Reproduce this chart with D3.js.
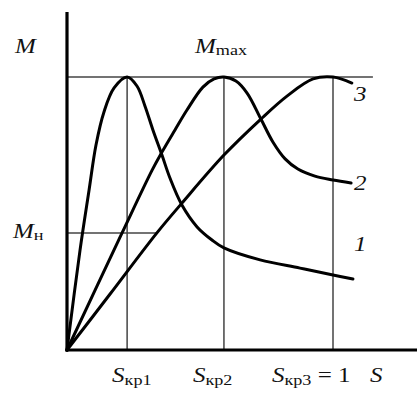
<!DOCTYPE html>
<html>
<head>
<meta charset="utf-8">
<script src="https://cdn.jsdelivr.net/npm/d3@7"></script>
<style>
  html, body { margin: 0; padding: 0; background: #fff; }
  svg { display: block; }
  text { font-family: "Liberation Serif", "DejaVu Serif", serif; fill: #111; }
</style>
</head>
<body>
<svg id="chart" width="417" height="397"></svg>
<script>
// Torque–slip characteristics M(S) for three critical slips
const slip1 = [0, 0.049, 0.083, 0.109, 0.139, 0.177, 0.226, 0.263, 0.293, 0.323, 0.357, 0.387, 0.432, 0.489, 0.545, 0.590, 0.726, 0.876, 1.0, 1.075];
const torque1 = [0, 0.366, 0.586, 0.751, 0.872, 0.960, 1.0, 0.967, 0.894, 0.806, 0.714, 0.630, 0.531, 0.451, 0.403, 0.374, 0.330, 0.300, 0.275, 0.260];

const slip2 = [0, 0.207, 0.320, 0.357, 0.406, 0.451, 0.511, 0.553, 0.590, 0.635, 0.677, 0.729, 0.774, 0.820, 0.868, 0.932, 1.0, 1.068];
const torque2 = [0, 0.429, 0.659, 0.725, 0.806, 0.879, 0.963, 0.993, 1.0, 0.985, 0.941, 0.846, 0.762, 0.700, 0.663, 0.637, 0.623, 0.612];

const slip3 = [0, 0.162, 0.338, 0.432, 0.590, 0.729, 0.827, 0.925, 1.0, 1.071];
const torque3 = [0, 0.205, 0.429, 0.538, 0.714, 0.846, 0.930, 0.993, 1.0, 0.978];

const curveNames = ["1", "2", "3"];
const criticalSlips = [0.226, 0.590, 1.0];
const criticalLabels = ["1", "2", "3"];
const mMax = 1.0;
const mNom = 0.429;
const sMaxAxis = 1.32;
const mMaxAxis = 1.238;
const sMaxLine = 1.15;

const svg = d3.select("#chart");
const x = d3.scaleLinear().domain([0, 1]).range([67, 333]);
const y = d3.scaleLinear().domain([0, 1]).range([350, 77]);

const series = [
  slip1.map((s, i) => [s, torque1[i]]),
  slip2.map((s, i) => [s, torque2[i]]),
  slip3.map((s, i) => [s, torque3[i]])
];

// thin guide lines
const guides = svg.append("g").attr("stroke", "#444").attr("stroke-width", 1.5).attr("fill", "none");
guides.append("line")
  .attr("x1", x(0)).attr("x2", x(sMaxLine))
  .attr("y1", y(mMax)).attr("y2", y(mMax));
guides.selectAll("line.crit").data(criticalSlips).join("line")
  .attr("class", "crit")
  .attr("x1", d => x(d)).attr("x2", d => x(d))
  .attr("y1", y(mMax)).attr("y2", y(0));
// nominal torque line runs up to curve 3
const mNomEnd = slip3[torque3.indexOf(mNom)];
guides.append("line")
  .attr("x1", x(0)).attr("x2", x(mNomEnd))
  .attr("y1", y(mNom)).attr("y2", y(mNom));

// characteristics
const line = d3.line().x(d => x(d[0])).y(d => y(d[1])).curve(d3.curveCatmullRom.alpha(0.5));
svg.append("g").selectAll("path").data(series).join("path")
  .attr("d", line)
  .attr("fill", "none")
  .attr("stroke", "#000")
  .attr("stroke-width", 3)
  .attr("stroke-linecap", "round")
  .attr("stroke-linejoin", "round");

// axes
const axes = svg.append("g").attr("stroke", "#000").attr("stroke-width", 3.2);
axes.append("line").attr("x1", x(0)).attr("x2", x(0)).attr("y1", y(mMaxAxis)).attr("y2", y(0) + 1.5);
axes.append("line").attr("x1", x(0) - 1.5).attr("x2", x(sMaxAxis)).attr("y1", y(0)).attr("y2", y(0));

// labels (glyphs are set a little wide)
const stretch = 1.25;
function label(px, py, main, sub, extra, subDy) {
  const t = svg.append("text")
    .attr("transform", `translate(${px},${py}) scale(${stretch},1)`)
    .attr("font-size", 20);
  t.append("tspan").attr("font-style", "italic").text(main);
  if (sub) t.append("tspan").attr("font-size", 14.5).attr("dy", subDy).text(sub);
  if (extra) t.append("tspan").attr("dy", -subDy).attr("font-size", 20).text(extra);
  return t;
}

label(15, 53, "M");
label(195, 53, "M", "max", null, 1.5);
label(13, 238, "M", "н", null, 2);

label(x(criticalSlips[0]) - 15, 382, "S", "кр" + criticalLabels[0], null, 3);
label(x(criticalSlips[1]) - 31, 382, "S", "кр" + criticalLabels[1], null, 3);
label(x(criticalSlips[2]) - 61, 382, "S", "кр" + criticalLabels[2], " = 1", 3);
label(370, 382, "S");

// curve numbers beside the line ends
const numY = [251, 190, 101];
svg.selectAll("text.num").data(curveNames).join("text")
  .attr("class", "num")
  .attr("font-size", 20)
  .attr("font-style", "italic")
  .attr("transform", (d, i) => `translate(354,${numY[i]}) scale(${stretch},1)`)
  .text(d => d);
</script>
</body>
</html>
